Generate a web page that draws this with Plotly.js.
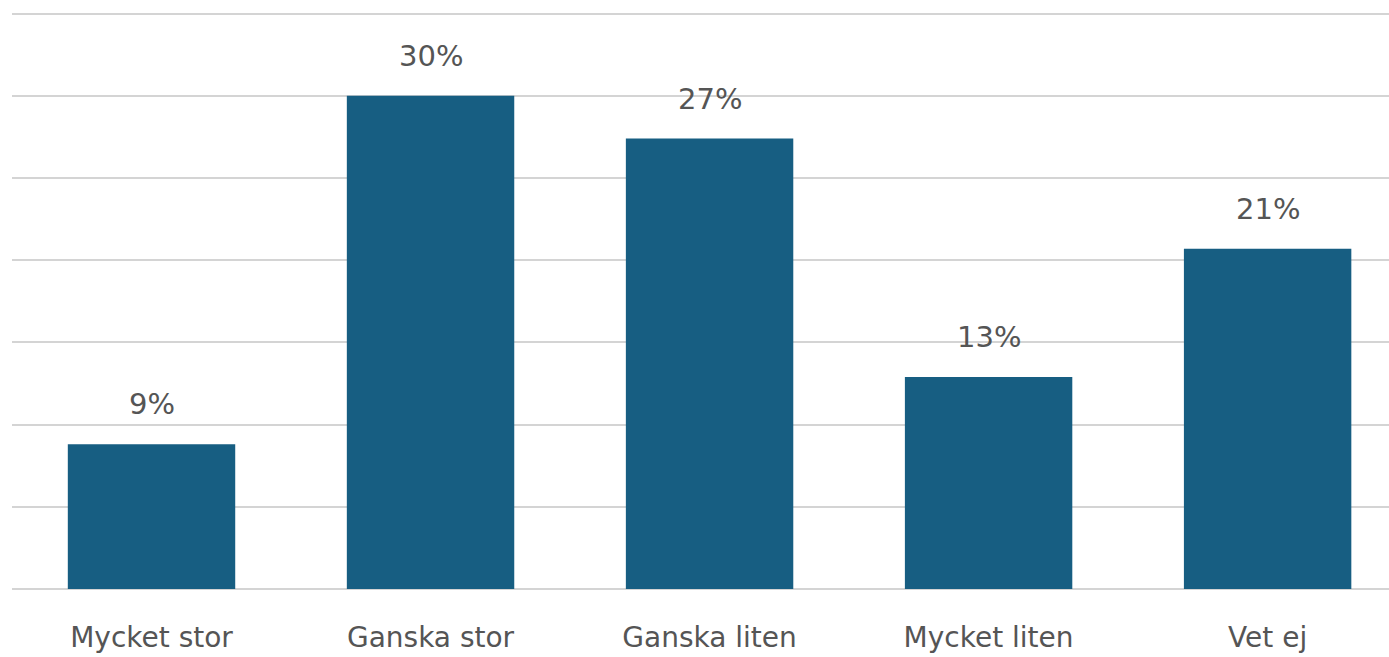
<!DOCTYPE html>
<html>
<head>
<meta charset="utf-8">
<script src="https://cdn.plot.ly/plotly-3.0.1.min.js"></script>
<style>html,body{margin:0;padding:0;background:#fff;}#chart{width:1389px;height:657px;}</style>
</head>
<body>
<div id="chart"></div>
<script>
const categories = ["Mycket stor", "Ganska stor", "Ganska liten", "Mycket liten", "Vet ej"];
const values = [8.8, 30.0, 27.4, 12.9, 20.7];
const valueLabels = ["9%", "30%", "27%", "13%", "21%"];
const gridTicks = [0, 5, 10, 15, 20, 25, 30, 35];

const textColor = "#555555";
const fontFamily = "DejaVu Sans, sans-serif";

const trace = {
  type: "bar",
  x: categories,
  y: values,
  marker: {color: "#175E82"},
  hoverinfo: "none"
};

const annotations = categories.map((c, i) => ({
  x: c, y: values[i], xref: "x", yref: "y",
  text: valueLabels[i], showarrow: false,
  yanchor: "middle", yshift: 40,
  font: {family: fontFamily, size: 29, color: textColor}
}));

const layout = {
  width: 1389, height: 657,
  margin: {l: 12, r: 0, t: 12, b: 68},
  paper_bgcolor: "#fff", plot_bgcolor: "#fff",
  bargap: 0.4,
  showlegend: false,
  font: {family: fontFamily, color: textColor},
  xaxis: {
    type: "category",
    range: [-0.5, 4.435],
    showgrid: false, zeroline: false, showline: false,
    ticks: "",
    ticklabelstandoff: 29,
    tickfont: {family: fontFamily, size: 28, color: textColor}
  },
  yaxis: {
    range: [0, 35.1],
    tickmode: "array", tickvals: gridTicks,
    showgrid: true, gridcolor: "#d4d4d4", gridwidth: 2,
    zeroline: true, zerolinecolor: "#d4d4d4", zerolinewidth: 2,
    showline: false,
    showticklabels: false, ticks: ""
  },
  annotations: annotations
};

Plotly.newPlot("chart", [trace], layout, {displayModeBar: false, staticPlot: true});
</script>
</body>
</html>
